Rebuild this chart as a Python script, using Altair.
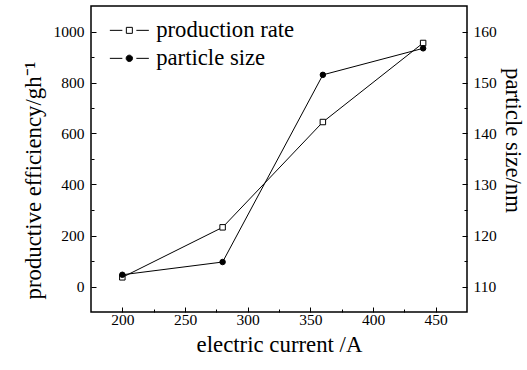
import altair as alt
import pandas as pd

# ---- data ----
current = [200, 280, 360, 440]
production_rate = [36, 232, 645, 955]
particle_size = [112.3, 114.8, 151.5, 156.7]
series_names = ["production rate", "particle size"]

x_major = [200, 250, 300, 350, 400, 450]
x_minor = [225, 275, 325, 375, 425]
left_major = [0, 200, 400, 600, 800, 1000]
left_minor = [100, 300, 500, 700, 900]
right_major = [110, 120, 130, 140, 150, 160]
right_minor = [115, 125, 135, 145, 155]

df = pd.DataFrame({"current": current, "production": production_rate, "size": particle_size})
legend_df = pd.DataFrame({"series": series_names})

FONT = "Liberation Serif"
xscale = alt.Scale(domain=[175, 475], nice=False, zero=False)
lscale = alt.Scale(domain=[-100, 1100], nice=False, zero=False)
rscale = alt.Scale(domain=[105, 165], nice=False, zero=False)

common = dict(domain=False, grid=False, tickColor="black", tickWidth=1, format="d",
              labelFont=FONT, labelColor="black", labelFontSize=15.5,
              titleFont=FONT, titleFontSize=22.8, titleFontWeight="normal", titleColor="black")

x_main_axis = alt.Axis(values=x_major, orient="bottom", title="electric current /A",
                       tickSize=5, offset=-5, labelPadding=0, titlePadding=6, **common)
x_minor_axis = alt.Axis(values=x_minor, orient="bottom", title=None, labels=False,
                        tickSize=3, offset=-3, domain=False, grid=False, tickColor="black")

left_main_axis = alt.Axis(values=left_major, orient="left", title="productive efficiency/gh⁻¹",
                          tickSize=5, offset=-5, labelPadding=7, titlePadding=8,
                          titleY=174, **common)
left_minor_axis = alt.Axis(values=left_minor, orient="left", title=None, labels=False,
                           tickSize=3, offset=-3, domain=False, grid=False, tickColor="black")

right_main_axis = alt.Axis(values=right_major, orient="right", title="particle size/nm",
                           tickSize=5, offset=-5, labelPadding=6, titlePadding=4,
                           titleY=134, **common)
right_minor_axis = alt.Axis(values=right_minor, orient="right", title=None, labels=False,
                            tickSize=3, offset=-3, domain=False, grid=False, tickColor="black")

base = alt.Chart(df)

a_line = base.mark_line(color="black", strokeWidth=1).encode(
    x=alt.X("current:Q", scale=xscale, axis=x_main_axis),
    y=alt.Y("production:Q", scale=lscale, axis=left_main_axis),
)
a_pts = base.mark_point(shape="square", filled=True, fill="white", stroke="black",
                        strokeWidth=1, size=30, opacity=1).encode(
    x=alt.X("current:Q", scale=xscale, axis=x_minor_axis),
    y=alt.Y("production:Q", scale=lscale, axis=left_minor_axis),
)
b_line = base.mark_line(color="black", strokeWidth=1).encode(
    x=alt.X("current:Q", scale=xscale, axis=None),
    y=alt.Y("size:Q", scale=rscale, axis=right_main_axis),
)
b_pts = base.mark_point(shape="circle", filled=True, fill="black", stroke="black",
                        strokeWidth=1, size=30, opacity=1).encode(
    x=alt.X("current:Q", scale=xscale, axis=None),
    y=alt.Y("size:Q", scale=rscale, axis=right_minor_axis),
)

path_square = "M-1.95,0H-0.7M0.7,0H1.95M-0.3,-0.3H0.3V0.3H-0.3Z"
path_circle = "M-1.95,0H-0.7M0.7,0H1.95M-0.32,0A0.32,0.32,0,1,1,0.32,0A0.32,0.32,0,1,1,-0.32,0Z"

leg = alt.Legend(title=None, orient="none", legendX=27, legendY=13, direction="vertical",
                 symbolSize=400, symbolOpacity=1, symbolStrokeWidth=1,
                 labelFont=FONT, labelFontSize=22.7, labelColor="black", labelOffset=15.5,
                 rowPadding=4, padding=0)

legend_layer = alt.Chart(legend_df).mark_point(opacity=0).encode(
    shape=alt.Shape("series:N", scale=alt.Scale(domain=series_names, range=[path_square, path_circle]), legend=leg),
    fill=alt.Fill("series:N", scale=alt.Scale(domain=series_names, range=["white", "black"]), legend=leg),
    stroke=alt.Stroke("series:N", scale=alt.Scale(domain=series_names, range=["black", "black"]), legend=leg),
)

chart = alt.layer(a_line, a_pts, b_line, b_pts, legend_layer).resolve_scale(
    y="independent"
).resolve_axis(
    x="independent"
).properties(
    width=376, height=306,
    autosize=alt.AutoSizeParams(type="none"),
    padding={"left": 91, "top": 6, "right": 60, "bottom": 58},
    background="white",
).configure(
    font=FONT
).configure_axis(
    labelFont=FONT, titleFont=FONT,
    titleFontWeight="normal", labelColor="black", titleColor="black"
).configure_view(stroke="black", strokeWidth=1.5)

chart.save("out.html", embed_options={"renderer": "svg", "actions": False})
